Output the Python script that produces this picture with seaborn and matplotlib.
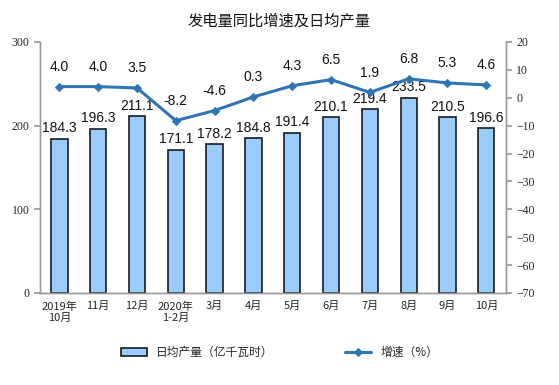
import numpy as np
import pandas as pd
import matplotlib
matplotlib.use("Agg")
import matplotlib.pyplot as plt
import seaborn as sns

months = ["2019年\n10月", "11月", "12月", "2020年\n1-2月", "3月", "4月",
          "5月", "6月", "7月", "8月", "9月", "10月"]
output = [184.3, 196.3, 211.1, 171.1, 178.2, 184.8, 191.4, 210.1, 219.4, 233.5, 210.5, 196.6]
growth = [4.0, 4.0, 3.5, -8.2, -4.6, 0.3, 4.3, 6.5, 1.9, 6.8, 5.3, 4.6]

df = pd.DataFrame({"month": months, "output": output, "growth": growth,
                   "pos": np.arange(len(months))})

sns.set_theme(style="white")
plt.rcParams['font.family'] = ['Noto Sans CJK SC', 'DejaVu Sans']

fig = plt.figure(figsize=(5.59, 3.85), dpi=100)
ax = fig.add_axes([0.0716, 0.239, 0.833, 0.652])
ax2 = ax.twinx()

sns.barplot(data=df, x="pos", y="output", ax=ax, color="#99CCFF",
            edgecolor="#1a1a1a", linewidth=1.2, width=0.42, saturation=1,
            label="日均产量（亿千瓦时）")
sns.lineplot(data=df, x="pos", y="growth", ax=ax2, color="#2E75B6",
             linewidth=2.2, marker="D", markersize=4.5, markeredgecolor="#2E75B6",
             label="增速（%）", legend=False)

ax.set_ylim(0, 300)
ax.set_yticks([0, 100, 200, 300])
ax2.set_ylim(-70, 20)
ax2.set_yticks(np.arange(-70, 21, 10))
ax.set_xlim(-0.5, len(months) - 0.5)

ax.set_xticks(df["pos"])
ax.set_xticklabels(months, fontsize=8, linespacing=1.2)
ax.set_xticks(np.arange(-0.5, len(months), 1), minor=True)
ax.tick_params(axis="x", which="major", length=0, pad=6)
ax.tick_params(axis="x", which="minor", length=4, color="#999999", direction="out")
ax.tick_params(axis="y", length=4, color="#999999", direction="out", labelsize=8.5)
ax2.tick_params(axis="y", length=4, color="#999999", direction="out", labelsize=8.5)
for lab in ax.get_yticklabels() + ax2.get_yticklabels():
    lab.set_family("Liberation Serif")
ax.set_xlabel("")
ax.set_ylabel("")
ax2.set_xlabel("")
ax2.set_ylabel("")

for a in (ax, ax2):
    a.spines["top"].set_visible(False)
    for side in ("left", "right", "bottom"):
        a.spines[side].set_color("#999999")
        a.spines[side].set_linewidth(1)

for x, v in zip(df["pos"], output):
    ax.text(x, v + 4, f"{v:.1f}", ha="center", va="bottom", fontsize=10,
            family="Liberation Sans", color="#111111")
for x, v in zip(df["pos"], growth):
    ax2.text(x, v + 4.5, f"{v:.1f}", ha="center", va="bottom", fontsize=10,
             family="Liberation Sans", color="#111111")

fig.text(0.5, 0.945, "发电量同比增速及日均产量", ha="center", va="center",
         fontsize=11, color="#111111")

h1, l1 = ax.get_legend_handles_labels()
h2, l2 = ax2.get_legend_handles_labels()
if ax.get_legend():
    ax.get_legend().remove()
fig.legend(h1 + h2, l1 + l2, loc="center", bbox_to_anchor=(0.5, 0.085), ncol=2,
           frameon=False, fontsize=8.5, handlelength=2.2, columnspacing=6)

fig.savefig("out.png", dpi=100)
